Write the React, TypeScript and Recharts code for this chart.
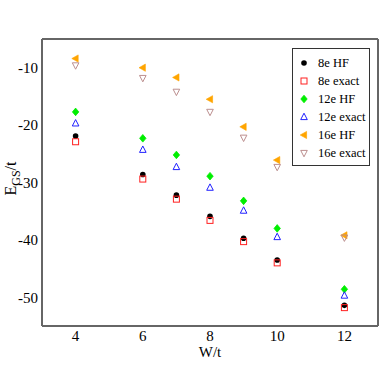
import { ScatterChart, Scatter, XAxis, YAxis, Legend, Label } from "recharts"

// W/t positions and ground-state energies
const w = [4, 6, 7, 8, 9, 10, 12]
const hf8 = [-21.9, -28.6, -32.2, -35.9, -39.7, -43.5, -51.4]
const exact8 = [-22.9, -29.4, -32.9, -36.6, -40.3, -44.0, -51.8]
const hf12 = [-17.7, -22.3, -25.2, -28.9, -33.2, -38.0, -48.6]
const exact12 = [-19.7, -24.3, -27.3, -30.9, -34.9, -39.5, -49.7]
const hf16 = [-8.4, -10.0, -11.7, -15.5, -20.3, -26.1, -39.2]
const exact16 = [-9.6, -11.8, -14.2, -17.7, -22.2, -27.3, -39.6]

const xTicks = [4, 6, 8, 10, 12]
const yTicks = [-50, -40, -30, -20, -10]
const yMinor = [-45, -35, -25, -15]

type Kind = "dot" | "square" | "diamond" | "up" | "left" | "down"

const series: { name: string; values: number[]; kind: Kind; color: string }[] = [
  { name: "8e HF", values: hf8, kind: "dot", color: "#000000" },
  { name: "8e exact", values: exact8, kind: "square", color: "#ff2020" },
  { name: "12e HF", values: hf12, kind: "diamond", color: "#00ee00" },
  { name: "12e exact", values: exact12, kind: "up", color: "#2020ff" },
  { name: "16e HF", values: hf16, kind: "left", color: "#ffa500" },
  { name: "16e exact", values: exact16, kind: "down", color: "#bc8f8f" },
]

const font = "'Liberation Serif', 'DejaVu Serif', serif"
const axisColor = "#666666"

function Marker({ cx, cy, kind, color }: { cx: number; cy: number; kind: Kind; color: string }) {
  if (cx == null || cy == null) return null
  switch (kind) {
    case "dot":
      return <circle cx={cx} cy={cy} r={2.8} fill={color} />
    case "square":
      return <rect x={cx - 3} y={cy - 3} width={6} height={6} fill="none" stroke={color} strokeWidth={1} />
    case "diamond":
      return <polygon points={`${cx},${cy - 3.8} ${cx + 3.2},${cy} ${cx},${cy + 3.8} ${cx - 3.2},${cy}`} fill={color} stroke={color} strokeWidth={0.8} />
    case "up":
      return <polygon points={`${cx},${cy - 3.8} ${cx + 3.3},${cy + 2.6} ${cx - 3.3},${cy + 2.6}`} fill="none" stroke={color} strokeWidth={1} />
    case "left":
      return <polygon points={`${cx - 3.8},${cy} ${cx + 2.6},${cy - 3.6} ${cx + 2.6},${cy + 3.6}`} fill={color} stroke={color} strokeWidth={0.6} />
    case "down":
      return <polygon points={`${cx},${cy + 3.8} ${cx + 3.3},${cy - 2.6} ${cx - 3.3},${cy - 2.6}`} fill="none" stroke={color} strokeWidth={1} />
  }
}

function LegendBox() {
  return (
    <div style={{ border: "1px solid #333", background: "#fff", padding: "5px 0 3px 0", width: 76 }}>
      {series.map((s) => (
        <div key={s.name} style={{ display: "flex", alignItems: "center", height: 18, fontFamily: font, fontSize: 12.5, color: "#000" }}>
          <svg width={22} height={18}>
            <Marker cx={11} cy={9} kind={s.kind} color={s.color} />
          </svg>
          <span style={{ marginLeft: 3, whiteSpace: "nowrap" }}>{s.name}</span>
        </div>
      ))}
    </div>
  )
}

export default function App() {
  return (
    <div style={{ position: "absolute", left: 0, top: 0, background: "#fff" }}>
      <ScatterChart width={382} height={382} margin={{ top: 39, right: 4, bottom: 0, left: 0 }}>
        <XAxis
          xAxisId="x"
          type="number"
          dataKey="x"
          domain={[3, 13]}
          ticks={xTicks}
          height={56}
          tickLine={false}
          tickSize={0}
          axisLine={{ stroke: axisColor, strokeWidth: 2 }}
          tick={{ fill: "#000", fontSize: 15, fontFamily: font }}
          tickMargin={4}
        >
          <Label value="W/t" position="insideTop" offset={20} style={{ fill: "#000", fontSize: 15, fontFamily: font }} />
        </XAxis>
        <XAxis xAxisId="xTicks" type="number" domain={[3, 13]} ticks={xTicks} mirror tick={false} axisLine={false} tickSize={7} tickLine={{ stroke: axisColor, strokeWidth: 1.5 }} />
        <XAxis xAxisId="top" type="number" orientation="top" domain={[3, 13]} ticks={[]} mirror tick={false} axisLine={{ stroke: axisColor, strokeWidth: 2 }} />
        <YAxis
          yAxisId="y"
          type="number"
          dataKey="y"
          domain={[-55, -5]}
          ticks={yTicks}
          width={42}
          tickLine={false}
          tickSize={0}
          axisLine={{ stroke: axisColor, strokeWidth: 2 }}
          tick={{ fill: "#000", fontSize: 15, fontFamily: font }}
          tickMargin={4}
        >
          <Label
            content={(props: any) => {
              const vb = props.viewBox
              const cx = 16
              const cy = vb.y + vb.height / 2 - 4
              return (
                <text transform={`translate(${cx},${cy}) rotate(-90)`} textAnchor="middle" style={{ fontFamily: font, fontSize: 16, fill: "#000" }}>
                  E<tspan fontSize={12} dy={4}>GS</tspan><tspan dy={-4}>/t</tspan>
                </text>
              )
            }}
          />
        </YAxis>
        <YAxis yAxisId="yMaj" type="number" domain={[-55, -5]} ticks={yTicks} mirror tick={false} axisLine={false} tickSize={7} tickLine={{ stroke: axisColor, strokeWidth: 1.5 }} />
        <YAxis yAxisId="yMin" type="number" domain={[-55, -5]} ticks={yMinor} mirror tick={false} axisLine={false} tickSize={4} tickLine={{ stroke: axisColor, strokeWidth: 1.5 }} />
        <YAxis yAxisId="rMaj" orientation="right" type="number" domain={[-55, -5]} ticks={yTicks} mirror tick={false} axisLine={{ stroke: axisColor, strokeWidth: 2 }} tickSize={6} tickLine={{ stroke: axisColor, strokeWidth: 1.5 }} />
        <YAxis yAxisId="rMin" orientation="right" type="number" domain={[-55, -5]} ticks={yMinor} mirror tick={false} axisLine={false} tickSize={3} tickLine={{ stroke: axisColor, strokeWidth: 1.5 }} />
        {series.map((s) => (
          <Scatter
            key={s.name}
            name={s.name}
            xAxisId="x"
            yAxisId="y"
            data={w.map((x, i) => ({ x, y: s.values[i] }))}
            isAnimationActive={false}
            shape={(p: any) => <Marker cx={p.cx} cy={p.cy} kind={s.kind} color={s.color} />}
          />
        ))}
        <Legend
          layout="vertical"
          verticalAlign="middle"
          align="center"
          wrapperStyle={{ top: 48, left: 292, width: 78 }}
          content={() => <LegendBox />}
        />
      </ScatterChart>
    </div>
  )
}
